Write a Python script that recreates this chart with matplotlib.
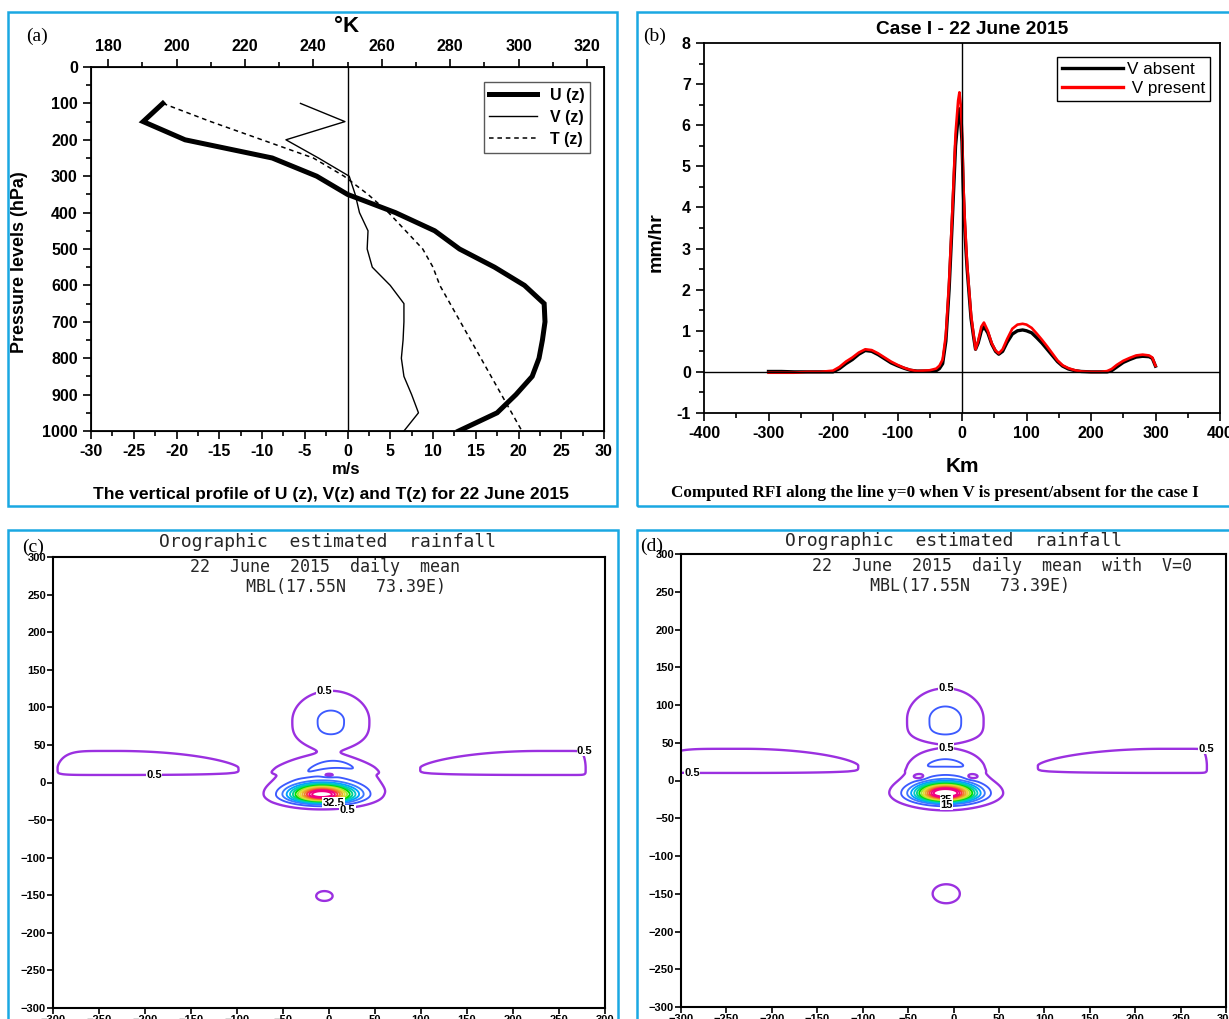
import numpy as np
import matplotlib
matplotlib.use("Agg")
import matplotlib.pyplot as plt
from matplotlib.patches import Rectangle
from matplotlib.lines import Line2D
from matplotlib.ticker import MultipleLocator, FuncFormatter

# ---------------- (a) vertical profile, 22 June 2015 ----------------
p_levels = [100, 150, 200, 250, 300, 350, 400, 450, 500, 550,
            600, 650, 700, 750, 800, 850, 900, 950, 1000]
u_wind = [-21.6, -23.9, -19.0, -8.8, -3.6, 0.0, 5.6, 10.2, 13.1, 17.2,
          20.7, 23.0, 23.1, 22.8, 22.4, 21.6, 19.7, 17.5, 13.0]
v_wind = [-5.5, -0.3, -7.2, -3.4, 0.2, 0.9, 1.4, 2.4, 2.3, 2.9,
          5.0, 6.6, 6.6, 6.5, 6.3, 6.6, 7.5, 8.3, 6.6]
t_air = [196, 210, 225, 240, 249, 256, 262, 267, 272, 275,
         277, 280, 283, 286, 289, 292, 295, 298, 301]

# ---------------- (b) RFI along y=0 ----------------
x_km = [-300, -280, -260, -240, -220, -200, -190, -180, -170, -160, -150,
        -140, -130, -120, -110, -100, -90, -80, -70, -60, -50, -40, -35,
        -30, -25, -20, -15, -10, -6, -4, -2, 0, 2, 4, 6, 8, 10, 14, 18,
        21, 25, 30, 34, 40, 46, 52, 57, 63, 70, 78, 86, 94, 100, 108, 116,
        124, 132, 140, 148, 156, 165, 175, 185, 200, 215, 225, 232, 240,
        250, 260, 270, 280, 290, 295, 300]
rfi_present = [-0.02, -0.02, -0.02, 0.0, 0.0, 0.03, 0.12, 0.25, 0.35, 0.47, 0.55,
               0.53, 0.45, 0.35, 0.25, 0.17, 0.1, 0.05, 0.02, 0.03, 0.04, 0.08, 0.15,
               0.3, 0.9, 2.2, 3.9, 5.8, 6.6, 6.8, 6.5, 5.9, 4.6, 3.8, 3.2, 2.6, 2.2, 1.4, 0.9,
               0.55, 0.75, 1.1, 1.2, 1.0, 0.7, 0.52, 0.45, 0.55, 0.8, 1.05, 1.15, 1.17, 1.15, 1.07, 0.93,
               0.78, 0.62, 0.45, 0.28, 0.16, 0.09, 0.04, 0.01, 0.0, 0.0, 0.02, 0.07, 0.17,
               0.27, 0.34, 0.4, 0.42, 0.4, 0.35, 0.15]
rfi_absent = [0.01, 0.01, 0.0, 0.0, 0.0, 0.0, 0.08, 0.2, 0.3, 0.43, 0.52,
              0.5, 0.42, 0.32, 0.22, 0.15, 0.09, 0.04, 0.02, 0.02, 0.02, 0.03, 0.08,
              0.2, 0.75, 2.0, 3.7, 5.5, 6.2, 6.4, 6.1, 5.6, 4.4, 3.6, 3.0, 2.5, 2.1, 1.3, 0.85,
              0.55, 0.7, 1.0, 1.1, 0.95, 0.68, 0.5, 0.43, 0.5, 0.72, 0.92, 1.0, 1.02, 1.0, 0.95, 0.83,
              0.7, 0.55, 0.4, 0.25, 0.14, 0.07, 0.03, 0.01, 0.0, 0.0, 0.0, 0.03, 0.12,
              0.23, 0.3, 0.36, 0.38, 0.37, 0.33, 0.14]

# ---------------- (c)/(d) orographic rainfall fields ----------------
# rain cells: x0, y0, amp, sx_left, sx_right, sy_down, sy_up,
#             px_left, px_right, py_down, py_up, bend
cells_c = [
    (-8, -16, 36.0, 30, 32, 9.5, 12, 2, 2, 2, 2, 0),
    (2, 82, 3.1, 31, 31, 29.5, 29.6, 2, 2, 3, 2, 0),
    (-3, 5, 2.0, 45, 45, 20, 27, 2, 2, 2, 2, 0),
    (5, 25, 2.4, 30, 30, 6, 6, 2, 2, 2, 2, 10),
    (0, 10, -2.5, 6.5, 6.5, 2.4, 2.4, 2, 2, 2, 2, 0),
    (-5, -151, 0.8, 13, 13, 9.5, 9.5, 2, 2, 2, 2, 0),
    (-230, 20, 2.2, 60.9, 106.8, 9.5, 16.9, 6, 2, 8, 1.5, 0),
    (230, 20, 2.2, 106.8, 48, 9.5, 16.9, 2, 20, 8, 1.5, 0),
]
cells_d = [
    (-9, -17, 38.0, 29, 30, 10, 12.2, 2, 2, 2, 2, 0),
    (-9, 81, 3.5, 30.2, 30.2, 26.2, 29.4, 2, 2, 4, 2, 0),
    (-8.5, -5, 1.8, 35.4, 35.4, 25, 44.4, 2, 2, 2, 4, 0),
    (-9, 24, 1.9, 30, 30, 6, 6, 2, 2, 2, 2, 9),
    (-37, 5, -1.6, 7, 7, 4.2, 4.2, 2, 2, 2, 2, 0),
    (20, 5, -1.6, 7, 7, 4.2, 4.2, 2, 2, 2, 2, 0),
    (-8, -150, 0.9, 19.5, 19.5, 16.4, 16.4, 2, 2, 2, 2, 0),
    (-230, 20, 2.2, 89, 102.7, 9.5, 16.9, 6, 2, 8, 1.5, 0),
    (230, 20, 2.2, 112.6, 48, 9.5, 16.9, 2, 20, 8, 1.5, 0),
]
rain_levels = [0.5, 2.5, 5, 7.5, 10, 12.5, 15, 17.5, 20, 22.5, 25, 27.5, 30, 32.5]
rain_colors = ['#9B30E0', '#3C5AFF', '#3C78FF', '#00A0FF', '#00C8C8', '#00D28C',
               '#00DC00', '#A0E632', '#E6DC32', '#E6AF2D', '#F08228', '#FA3C3C',
               '#F00082', '#F00082']
labels_c = [(-5, 122, '0.5'), (-190, 10, '0.5'), (278, 42, '0.5'),
            (5, -27, '32.5'), (20, -37, '0.5')]
labels_d = [(-8, 122, '0.5'), (-8, 43, '0.5'), (-288, 10, '0.5'), (278, 42, '0.5'),
            (-8, -26, '35'), (-8, -32, '15')]

W, H = 1229, 1019
plt.rcParams['font.family'] = 'Liberation Sans'
plt.rcParams['font.weight'] = 'bold'
border = '#1AA8E2'
hyphen = FuncFormatter(lambda v, pos: f'{v:g}')


def fx(px):
    return px / W


def fy(py):
    return 1 - py / H


def rain_field(cells):
    xs = np.linspace(-300, 300, 601)
    X, Y = np.meshgrid(xs, xs)
    total = np.zeros_like(X)
    for (x0, y0, amp, sxl, sxr, syd, syu, pxl, pxr, pyd, pyu, bend) in cells:
        dx = X - x0
        sx = np.where(dx < 0, sxl, sxr)
        px = np.where(dx < 0, pxl, pxr)
        dy = Y - (y0 - bend * (dx / sx) ** 2)
        sy = np.where(dy < 0, syd, syu)
        py = np.where(dy < 0, pyd, pyu)
        total += amp * np.exp(-np.abs(dx / sx) ** px - np.abs(dy / sy) ** py)
    return X, Y, total


def rain_panel(ax, cells, labels):
    X, Y, Z = rain_field(cells)
    lws = [1.7] + [1.35] * (len(rain_levels) - 1)
    ax.contour(X, Y, Z, levels=rain_levels, colors=rain_colors, linewidths=lws)
    for x, y, s in labels:
        ax.text(x, y, s, ha='center', va='center', fontsize=8, fontweight='bold',
                bbox=dict(facecolor='white', edgecolor='none', pad=0.3))
    ax.set_xlim(-300, 300)
    ax.set_ylim(-300, 300)
    ax.set_xticks(range(-300, 301, 50))
    ax.set_yticks(range(-300, 301, 50))
    ax.tick_params(direction='out', length=4, width=1.2, labelsize=8,
                   top=False, right=False, pad=1)
    for sp in ax.spines.values():
        sp.set_linewidth(1.5)


fig = plt.figure(figsize=(W / 100, H / 100), dpi=100)

# panel borders
for x0, y0, x1, y1 in [(8, 12, 617, 506), (637, 12, 1245, 506),
                       (8, 530, 618, 1035), (637, 530, 1245, 1035)]:
    fig.add_artist(Rectangle((fx(x0), fy(y1)), (x1 - x0) / W, (y1 - y0) / H,
                             transform=fig.transFigure, fill=False,
                             edgecolor=border, lw=1.8))

# ---------------- panel (a) ----------------
ax_a = fig.add_axes([fx(91), fy(431), (604 - 91) / W, (431 - 67) / H])
ax_a.plot(u_wind, p_levels, color='k', lw=3.6, solid_joinstyle='miter')
ax_a.plot(v_wind, p_levels, color='k', lw=1.0)
ax_a.axvline(0, color='k', lw=1.0)
ax_a.set_xlim(-30, 30)
ax_a.set_ylim(1000, 0)
ax_a.xaxis.set_major_locator(MultipleLocator(5))
ax_a.xaxis.set_minor_locator(MultipleLocator(2.5))
ax_a.xaxis.set_major_formatter(hyphen)
ax_a.yaxis.set_major_locator(MultipleLocator(100))
ax_a.yaxis.set_minor_locator(MultipleLocator(50))
ax_a.tick_params(which='both', direction='out', width=1.2, labelsize=11.5, top=False, right=False)
ax_a.tick_params(which='major', length=6)
ax_a.tick_params(which='minor', length=3.5)
for sp in ax_a.spines.values():
    sp.set_linewidth(1.3)

ax_t = ax_a.twiny()
ax_t.plot(t_air, p_levels, color='k', lw=1.1, ls=(0, (3, 2.5)))
ax_t.set_xlim(175, 325)
ax_t.xaxis.set_major_locator(MultipleLocator(20))
ax_t.xaxis.set_minor_locator(MultipleLocator(10))
ax_t.tick_params(which='both', direction='out', width=1.2, labelsize=11.5)
ax_t.tick_params(which='major', length=6)
ax_t.tick_params(which='minor', length=3.5)

handles = [Line2D([], [], color='k', lw=3.6),
           Line2D([], [], color='k', lw=1.0),
           Line2D([], [], color='k', lw=1.1, ls=(0, (3, 2.5)))]
ax_t.legend(handles, ['U (z)', 'V (z)', 'T (z)'], loc='upper right',
            bbox_to_anchor=(fx(590), fy(82)), bbox_transform=fig.transFigure,
            fancybox=False, edgecolor='0.35', framealpha=1, borderaxespad=0,
            handlelength=3.0, borderpad=0.35, labelspacing=0.45,
            prop={'weight': 'bold', 'size': 11.5})

fig.text(fx(347), fy(27), '°K', ha='center', va='center', fontsize=16)
fig.text(fx(20), fy(262), 'Pressure levels (hPa)', rotation=90, ha='center', va='center', fontsize=12.9)
fig.text(fx(346), fy(469), 'm/s', ha='center', va='center', fontsize=12)
fig.text(fx(331), fy(494), 'The vertical profile of U (z), V(z) and T(z) for 22 June 2015',
         ha='center', va='center', fontsize=12.6)
fig.text(fx(37), fy(36), '(a)', ha='center', va='center', fontsize=14,
         family='Liberation Serif', fontweight='normal')

# ---------------- panel (b) ----------------
ax_b = fig.add_axes([fx(704), fy(413), (1220 - 704) / W, (413 - 43) / H])
ax_b.plot(x_km, rfi_absent, color='k', lw=2.4)
ax_b.plot(x_km, rfi_present, color='#FF0000', lw=1.9)
ax_b.axhline(0, color='k', lw=1.0)
ax_b.axvline(0, color='k', lw=1.0)
ax_b.set_xlim(-400, 400)
ax_b.set_ylim(-1, 8)
ax_b.xaxis.set_major_locator(MultipleLocator(100))
ax_b.xaxis.set_minor_locator(MultipleLocator(50))
ax_b.xaxis.set_major_formatter(hyphen)
ax_b.yaxis.set_major_locator(MultipleLocator(1))
ax_b.yaxis.set_minor_locator(MultipleLocator(0.5))
ax_b.yaxis.set_major_formatter(hyphen)
ax_b.tick_params(which='both', direction='out', width=1.2, labelsize=11.5, top=False, right=False)
ax_b.tick_params(which='major', length=6)
ax_b.tick_params(which='minor', length=3.5)
for sp in ax_b.spines.values():
    sp.set_linewidth(1.3)
hb = [Line2D([], [], color='k', lw=2.4), Line2D([], [], color='#FF0000', lw=2.4)]
ax_b.legend(hb, ['V absent', ' V present'], loc='upper right',
            bbox_to_anchor=(fx(1210), fy(57)), bbox_transform=fig.transFigure,
            fancybox=False, edgecolor='k', framealpha=1, borderaxespad=0,
            handlelength=3.6, borderpad=0.3, labelspacing=0.2, handletextpad=0.2,
            prop={'weight': 'normal', 'size': 12.3})
fig.text(fx(972), fy(29), 'Case I - 22 June 2015', ha='center', va='center', fontsize=13.8)
fig.text(fx(656), fy(242), 'mm/hr', rotation=90, ha='center', va='center', fontsize=14)
fig.text(fx(962), fy(466), 'Km', ha='center', va='center', fontsize=15)
fig.text(fx(935), fy(493),
         'Computed RFI along the line y=0 when V is present/absent for the case I',
         ha='center', va='center', fontsize=12.3, family='Liberation Serif')
fig.text(fx(655), fy(36), '(b)', ha='center', va='center', fontsize=14,
         family='Liberation Serif', fontweight='normal')

# ---------------- panel (c) ----------------
ax_c = fig.add_axes([fx(53), fy(1008), (605 - 53) / W, (1008 - 557) / H])
rain_panel(ax_c, cells_c, labels_c)
gr = dict(family='DejaVu Sans Mono', fontweight='normal', color='0.15', ha='center', va='center')
ax_c.text(0.498, 1.033, 'Orographic  estimated  rainfall', transform=ax_c.transAxes, fontsize=13, **gr)
ax_c.text(0.493, 0.978, '22  June  2015  daily  mean', transform=ax_c.transAxes, fontsize=12, **gr)
ax_c.text(0.531, 0.933, 'MBL(17.55N   73.39E)', transform=ax_c.transAxes, fontsize=12, **gr)
fig.text(fx(33), fy(547), '(c)', ha='center', va='center', fontsize=14,
         family='Liberation Serif', fontweight='normal')

# ---------------- panel (d) ----------------
ax_d = fig.add_axes([fx(681), fy(1007), (1226 - 681) / W, (1007 - 554) / H])
rain_panel(ax_d, cells_d, labels_d)
ax_d.text(0.501, 1.029, 'Orographic  estimated  rainfall', transform=ax_d.transAxes, fontsize=13, **gr)
ax_d.text(0.589, 0.974, '22  June  2015  daily  mean  with  V=0', transform=ax_d.transAxes, fontsize=12, **gr)
ax_d.text(0.531, 0.929, 'MBL(17.55N   73.39E)', transform=ax_d.transAxes, fontsize=12, **gr)
fig.text(fx(652), fy(546), '(d)', ha='center', va='center', fontsize=14,
         family='Liberation Serif', fontweight='normal')

fig.savefig('out.png', dpi=100)
